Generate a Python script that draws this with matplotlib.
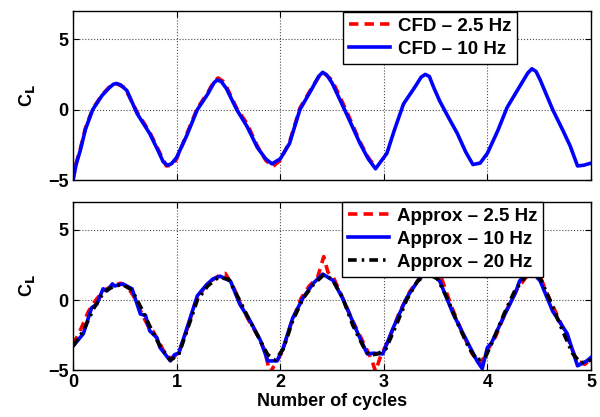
import matplotlib
matplotlib.use("Agg")
from matplotlib import pyplot as plt

plt.rcParams['font.family'] = ['Liberation Sans', 'DejaVu Sans']
plt.rcParams['font.weight'] = 'bold'
plt.rcParams['font.size'] = 13
plt.rcParams['mathtext.default'] = 'bf'

# top panel: CFD
cfd10_x = [0, 0.03, 0.07, 0.12, 0.19, 0.28, 0.35, 0.39, 0.42, 0.46, 0.52, 0.62, 0.74, 0.82,
           0.87, 0.91, 0.95, 1.0, 1.1, 1.2, 1.3, 1.36, 1.39, 1.43, 1.48, 1.58, 1.68, 1.78,
           1.86, 1.92, 2.0, 2.09, 2.19, 2.3, 2.37, 2.41, 2.45, 2.5, 2.64, 2.77, 2.85, 2.92,
           3.03, 3.1, 3.19, 3.3, 3.36, 3.4, 3.44, 3.48, 3.54, 3.62, 3.71, 3.79, 3.86, 3.93,
           4.0, 4.1, 4.19, 4.3, 4.39, 4.43, 4.47, 4.51, 4.63, 4.73, 4.8, 4.87, 4.93, 5.0]
cfd10_y = [-5, -3.9, -2.9, -1.4, 0, 1.0, 1.55, 1.8, 1.85, 1.75, 1.35, -0.3, -1.7, -2.9,
           -3.7, -3.95, -3.85, -3.4, -1.8, 0, 1.1, 1.9, 2.1, 2.0, 1.5, 0, -1.2, -2.7,
           -3.5, -3.85, -3.5, -2.4, 0, 1.4, 2.35, 2.65, 2.45, 1.9, -0.3, -2.4, -3.5, -4.2,
           -3.1, -1.5, 0.4, 1.6, 2.3, 2.5, 2.35, 1.6, 0.6, -0.5, -1.7, -3.0, -3.9, -3.8,
           -3.1, -1.5, 0.15, 1.5, 2.6, 2.9, 2.7, 2.1, 0, -1.5, -2.6, -4.0, -3.95, -3.8]
cfd25_x = [0, 0.03, 0.07, 0.12, 0.19, 0.28, 0.35, 0.42, 0.5, 0.62, 0.74, 0.82, 0.9, 0.96,
           1.0, 1.1, 1.2, 1.3, 1.36, 1.4, 1.46, 1.58, 1.68, 1.78, 1.86, 1.93, 2.0, 2.09,
           2.19, 2.3, 2.38, 2.42, 2.5, 2.64, 2.77, 2.85, 2.92]
cfd25_y = [-5, -3.8, -2.8, -1.3, 0.05, 1.05, 1.6, 1.85, 1.55, -0.2, -1.6, -2.8, -4.0, -3.95,
           -3.5, -1.7, 0.1, 1.2, 2.0, 2.25, 1.95, 0.1, -1.0, -2.6, -3.6, -4.05, -3.6, -2.3,
           0.1, 1.5, 2.4, 2.6, 2.1, -0.1, -2.3, -3.4, -4.1]

# bottom panel: approximations
ap10_x = [0, 0.1, 0.18, 0.23, 0.29, 0.33, 0.38, 0.4, 0.48, 0.57, 0.65, 0.7, 0.74, 0.81,
          0.84, 0.94, 0.98, 1.02, 1.1, 1.2, 1.29, 1.35, 1.42, 1.52, 1.61, 1.71, 1.81, 1.88,
          1.97, 2.03, 2.12, 2.22, 2.32, 2.41, 2.51, 2.61, 2.75, 2.84, 2.9, 2.99, 3.09, 3.22,
          3.35, 3.45, 3.54, 3.67, 3.8, 3.9, 3.95, 4.0, 4.04, 4.15, 4.27, 4.31, 4.41, 4.51,
          4.63, 4.77, 4.87, 4.96, 5.0]
ap10_y = [-3.3, -2.4, -0.55, -0.3, 0.8, 0.65, 1.15, 1.0, 1.15, 0.8, -1.0, -1.1, -2.2, -2.7,
          -3.4, -4.35, -3.9, -3.8, -2.0, 0.3, 1.1, 1.5, 1.7, 1.35, -0.3, -1.5, -2.9, -4.35,
          -4.35, -3.4, -1.3, 0.15, 1.2, 1.85, 1.4, 0, -2.4, -3.85, -3.8, -3.85, -2.0, 0.15,
          1.6, 2.0, 1.35, -1.0, -2.9, -4.35, -4.9, -3.4, -3.05, -1.3, 0.5, 1.35, 2.2, 1.35,
          -0.8, -2.4, -4.7, -4.35, -4.1]
ap25_x = [0, 0.08, 0.15, 0.22, 0.3, 0.38, 0.46, 0.53, 0.6, 0.66, 0.72, 0.77, 0.83, 0.9,
          0.96, 1.03, 1.1, 1.18, 1.26, 1.34, 1.42, 1.47, 1.55, 1.63, 1.7, 1.78, 1.85, 1.9,
          1.95, 2.02, 2.1, 2.2, 2.28, 2.36, 2.42, 2.46, 2.52, 2.6, 2.7, 2.8, 2.88, 2.92,
          2.97, 3.05, 3.15, 3.25, 3.35, 3.45, 3.55, 3.65, 3.75, 3.85, 3.93, 4.0, 4.08, 4.18,
          4.28, 4.38, 4.48, 4.58, 4.68, 4.78, 4.86, 4.94, 5.0]
ap25_y = [-3.2, -2.0, -0.8, 0.0, 0.7, 1.0, 1.2, 0.9, 0.1, -0.9, -1.8, -2.2, -3.0, -4.0,
          -4.2, -3.6, -2.1, -0.2, 0.8, 1.4, 1.8, 1.9, 0.9, -0.5, -1.5, -2.5, -3.6, -5.2,
          -4.6, -3.7, -1.8, 0.1, 1.0, 1.6, 3.1, 2.0, 1.5, 0.2, -1.5, -3.0, -4.2, -5.1,
          -4.0, -2.8, -0.9, 0.6, 1.6, 2.1, 1.7, -0.4, -2.2, -3.8, -4.6, -3.6, -2.6, -0.8,
          0.7, 1.7, 2.2, 0.4, -1.2, -2.8, -4.3, -4.6, -4.2]
ap20_x = [0, 0.1, 0.2, 0.3, 0.4, 0.48, 0.57, 0.66, 0.75, 0.84, 0.94, 1.02, 1.1, 1.2,
          1.3, 1.4, 1.5, 1.6, 1.7, 1.8, 1.88, 1.95, 2.03, 2.12, 2.22, 2.32, 2.42, 2.5,
          2.6, 2.7, 2.8, 2.86, 2.94, 3.02, 3.12, 3.22, 3.32, 3.42, 3.52, 3.62, 3.72, 3.82,
          3.9, 3.98, 4.06, 4.16, 4.26, 4.36, 4.44, 4.52, 4.62, 4.72, 4.82, 4.9, 5.0]
ap20_y = [-3.3, -2.2, -0.6, 0.6, 1.0, 1.1, 0.7, -0.6, -2.0, -3.3, -4.3, -3.9, -2.2, 0.0,
          1.0, 1.6, 1.5, 0.1, -1.4, -2.8, -3.9, -4.3, -3.5, -1.5, 0.1, 1.1, 1.8, 1.5,
          0.2, -1.8, -3.3, -3.95, -3.85, -3.5, -1.8, 0.0, 1.3, 1.9, 1.5, 0.0, -1.8, -3.4,
          -4.3, -4.1, -2.8, -1.0, 0.6, 1.6, 2.1, 1.4, -0.3, -2.1, -3.8, -4.5, -4.3]

xticks = [0, 1, 2, 3, 4, 5]
yticks = [-5, 0, 5]

fig = plt.figure(figsize=(6, 4.17), dpi=100)
ax1 = fig.add_axes([0.1217, 0.5683, 0.8633, 0.4053])
ax2 = fig.add_axes([0.1217, 0.1127, 0.8633, 0.4029])

dash = (2.6, 1.7)
dashdot = (2.4, 1.4, 0.7, 1.4)

ax1.plot(cfd25_x, cfd25_y, color='red', ls='--', dashes=dash, lw=2.6, label='CFD – 2.5 Hz')
ax1.plot(cfd10_x, cfd10_y, color='blue', ls='-', lw=2.6, label='CFD – 10 Hz')

ax2.plot(ap25_x, ap25_y, color='red', ls='--', dashes=dash, lw=2.6, label='Approx – 2.5 Hz')
ax2.plot(ap10_x, ap10_y, color='blue', ls='-', lw=2.6, label='Approx – 10 Hz')
ax2.plot(ap20_x, ap20_y, color='black', ls='-.', dashes=dashdot, lw=2.6,
         label='Approx – 20 Hz')

for ax in (ax1, ax2):
    ax.set_xlim(0, 5)
    ax.set_ylim(-5, 7)
    ax.set_xticks(xticks)
    ax.set_yticks(yticks)
    ax.grid(True, ls=':', color='0.3', lw=0.8)
    ax.tick_params(direction='in', top=True, right=True, length=4, labelsize=13, pad=3)
    ax.set_ylabel('C$_\\mathbf{L}$', fontsize=13, fontweight='bold', labelpad=8)
    for s in ax.spines.values():
        s.set_linewidth(1.0)

ax1.set_xticklabels([])
ax2.set_xlabel('Number of cycles', fontsize=13, fontweight='bold', labelpad=1)

leg_kw = dict(loc='upper right', borderaxespad=0, fancybox=False, edgecolor='black',
              framealpha=1, handlelength=2.2, labelspacing=0.32, borderpad=0.3,
              handletextpad=0.4, prop={'weight': 'bold', 'size': 13.5})
l1 = ax1.legend(bbox_to_anchor=(0.857, 0.994), **leg_kw)
l2 = ax2.legend(bbox_to_anchor=(0.907, 1.0), **leg_kw)
for l in (l1, l2):
    l.get_frame().set_linewidth(1.0)

fig.savefig('out.png', dpi=100)
